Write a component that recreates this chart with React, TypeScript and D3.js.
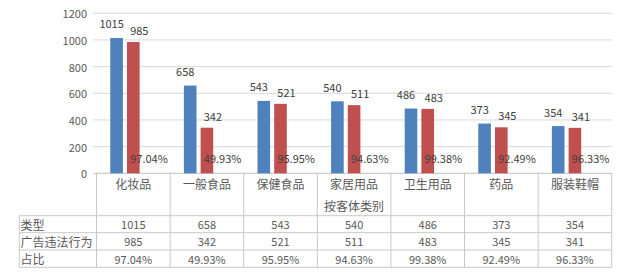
import React from "react";
import * as d3 from "d3";

const categories = ["化妆品", "一般食品", "保健食品", "家居用品", "卫生用品", "药品", "服装鞋帽"];
const typeValues = [1015, 658, 543, 540, 486, 373, 354];
const violationValues = [985, 342, 521, 511, 483, 345, 341];
const ratioLabels = ["97.04%", "49.93%", "95.95%", "94.63%", "99.38%", "92.49%", "96.33%"];
const ratioValues = [0.9704, 0.4993, 0.9595, 0.9463, 0.9938, 0.9249, 0.9633];
const yTicks = [0, 200, 400, 600, 800, 1000, 1200];
const rowHeaders = ["类型", "广告违法行为", "占比"];
const axisTitle = "按客体类别";

const W = 626;
const H = 280;
const plotLeft = 96.5;
const plotRight = 611.7;
const plotTop = 13.3;
const plotBottom = 173.3;
const tableLeft = 19.3;
const rowLines = [215.7, 232.7, 250, 267.3];

const BLUE = "#4F81BD";
const RED = "#C0504D";
const TEXT = "#595959";
const LABEL = "#404040";
const GRID = "#D9D9D9";
const TABLE_LINE = "#C8C8C8";
const CJK = "'Noto Sans CJK SC', 'Noto Sans', sans-serif";

export default function App() {
  const x = d3.scaleBand<string>().domain(categories).range([plotLeft, plotRight]).paddingInner(0).paddingOuter(0);
  const inner = d3
    .scaleBand<number>()
    .domain([0, 1, 2])
    .range([13.8, x.bandwidth() - 13.8])
    .paddingInner(0.245)
    .paddingOuter(0);
  const y = d3.scaleLinear().domain([0, 1200]).range([plotBottom, plotTop]);

  const series = [
    { values: typeValues, color: BLUE, dx: -5, gap: 14.5 },
    { values: violationValues, color: RED, dx: 6, gap: 12 },
  ];

  const rows = [typeValues.map(String), violationValues.map(String), ratioLabels];

  return (
    <svg
      width={W}
      height={H}
      viewBox={`0 0 ${W} ${H}`}
      style={{ position: "absolute", left: 0, top: 0, background: "#fff" }}
      fontFamily={CJK}
    >
      <rect width={W} height={H} fill="#fff" />
      {/* gridlines */}
      {yTicks.map((t) => (
        <line
          key={"g" + t}
          x1={plotLeft - 3}
          x2={plotRight}
          y1={y(t)}
          y2={y(t)}
          stroke={t === 0 ? "#BFBFBF" : GRID}
          strokeWidth={1}
        />
      ))}
      {yTicks.map((t) => (
        <text
          key={"t" + t}
          x={87}
          y={y(t)}
          textAnchor="end"
          dominantBaseline="central"
          fontSize={11}
          fill={TEXT}
        >
          {t}
        </text>
      ))}
      {/* bars */}
      {series.map((s, si) =>
        categories.map((c, i) => (
          <rect
            key={`b${si}-${i}`}
            x={(x(c) as number) + (inner(si) as number)}
            y={y(s.values[i])}
            width={inner.bandwidth()}
            height={y(0) - y(s.values[i])}
            fill={s.color}
          />
        ))
      )}
      {/* value labels */}
      {series.map((s, si) =>
        categories.map((c, i) => (
          <text
            key={`l${si}-${i}`}
            x={(x(c) as number) + (inner(si) as number) + inner.bandwidth() / 2 + s.dx}
            y={y(s.values[i]) - s.gap}
            textAnchor="middle"
            dominantBaseline="central"
            fontSize={11}
            fill={LABEL}
          >
            {s.values[i]}
          </text>
        ))
      )}
      {categories.map((c, i) => (
        <text
          key={`p${i}`}
          x={(x(c) as number) + (inner(2) as number) + inner.bandwidth() / 2 - 1}
          y={y(ratioValues[i]) - 15.5}
          textAnchor="middle"
          dominantBaseline="central"
          fontSize={11}
          fill={LABEL}
        >
          {ratioLabels[i]}
        </text>
      ))}
      {/* data table */}
      {rowLines.map((ly, i) => (
        <line key={`h${i}`} x1={tableLeft} x2={plotRight} y1={ly} y2={ly} stroke={TABLE_LINE} />
      ))}
      <line x1={tableLeft} x2={tableLeft} y1={rowLines[0]} y2={rowLines[3]} stroke={TABLE_LINE} />
      {categories.map((c, i) => (
        <line
          key={`v${i}`}
          x1={x(c) as number}
          x2={x(c) as number}
          y1={plotBottom}
          y2={rowLines[3]}
          stroke={TABLE_LINE}
        />
      ))}
      <line x1={plotRight} x2={plotRight} y1={plotBottom} y2={rowLines[3]} stroke={TABLE_LINE} />
      {categories.map((c, i) => (
        <text
          key={`c${i}`}
          x={(x(c) as number) + x.bandwidth() / 2}
          y={183.5}
          textAnchor="middle"
          dominantBaseline="central"
          fontSize={12}
          fill={TEXT}
        >
          {c}
        </text>
      ))}
      <text
        x={(plotLeft + plotRight) / 2}
        y={205}
        textAnchor="middle"
        dominantBaseline="central"
        fontSize={12}
        fill={TEXT}
      >
        {axisTitle}
      </text>
      {rowHeaders.map((r, ri) => (
        <text
          key={`r${ri}`}
          x={20.5}
          y={(rowLines[ri] + rowLines[ri + 1]) / 2}
          dominantBaseline="central"
          fontSize={12}
          fill={TEXT}
        >
          {r}
        </text>
      ))}
      {rows.map((row, ri) =>
        row.map((v, i) => (
          <text
            key={`d${ri}-${i}`}
            x={(x(categories[i]) as number) + x.bandwidth() / 2}
            y={(rowLines[ri] + rowLines[ri + 1]) / 2}
            textAnchor="middle"
            dominantBaseline="central"
            fontSize={11}
            fill={TEXT}
          >
            {v}
          </text>
        ))
      )}
    </svg>
  );
}
